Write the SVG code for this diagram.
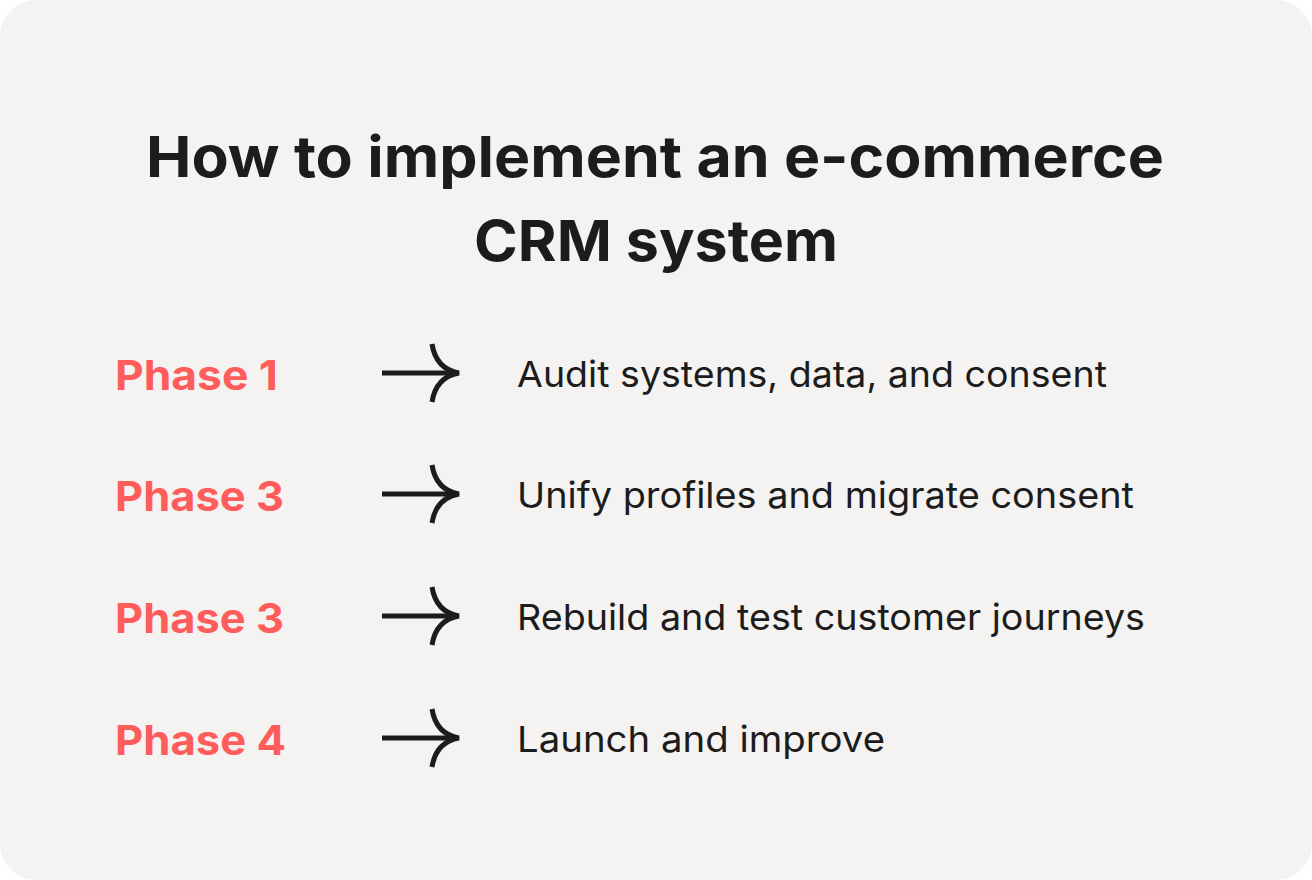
<svg xmlns="http://www.w3.org/2000/svg" width="1312" height="880" viewBox="0 0 1312 880">
<style>
.t{font-family:Inter,"Noto Sans",sans-serif;font-weight:700;font-size:57px;fill:#1c1c1c;text-anchor:middle}
.p{font-family:Inter,"Noto Sans",sans-serif;font-weight:700;font-size:41px;fill:#ff5c5c}
.d{font-family:Inter,"Noto Sans",sans-serif;font-size:36px;fill:#1c1c1c}
.a{fill:none;stroke:#1c1c1c;stroke-width:5}
</style>
<defs><g id="arr"><path class="a" d="M382 0H457"/><path class="a" d="M432 -29Q436 -4 459 0Q436 4 432 29"/></g></defs>
<rect width="1312" height="880" rx="36" fill="#f4f3f1"/>
<g id="title"><text class="t" x="655" y="177" textLength="1018" lengthAdjust="spacingAndGlyphs">How to implement an e-commerce</text><text class="t" x="656" y="261" textLength="364" lengthAdjust="spacingAndGlyphs">CRM system</text></g>
<g id="r1"><text class="p" x="115" y="390" textLength="163" lengthAdjust="spacingAndGlyphs">Phase 1</text><text class="d" x="517" y="387" textLength="590" lengthAdjust="spacingAndGlyphs">Audit systems, data, and consent</text></g>
<g id="r2"><text class="p" x="115" y="511" textLength="169" lengthAdjust="spacingAndGlyphs">Phase 3</text><text class="d" x="517" y="508" textLength="617" lengthAdjust="spacingAndGlyphs">Unify profiles and migrate consent</text></g>
<g id="r3"><text class="p" x="115" y="633" textLength="169" lengthAdjust="spacingAndGlyphs">Phase 3</text><text class="d" x="517" y="630" textLength="628" lengthAdjust="spacingAndGlyphs">Rebuild and test customer journeys</text></g>
<g id="r4"><text class="p" x="115" y="755" textLength="171" lengthAdjust="spacingAndGlyphs">Phase 4</text><text class="d" x="517" y="752" textLength="368" lengthAdjust="spacingAndGlyphs">Launch and improve</text></g>
<g id="connectors"><use href="#arr" y="373"/><use href="#arr" y="494"/><use href="#arr" y="616"/><use href="#arr" y="738"/></g>
</svg>
